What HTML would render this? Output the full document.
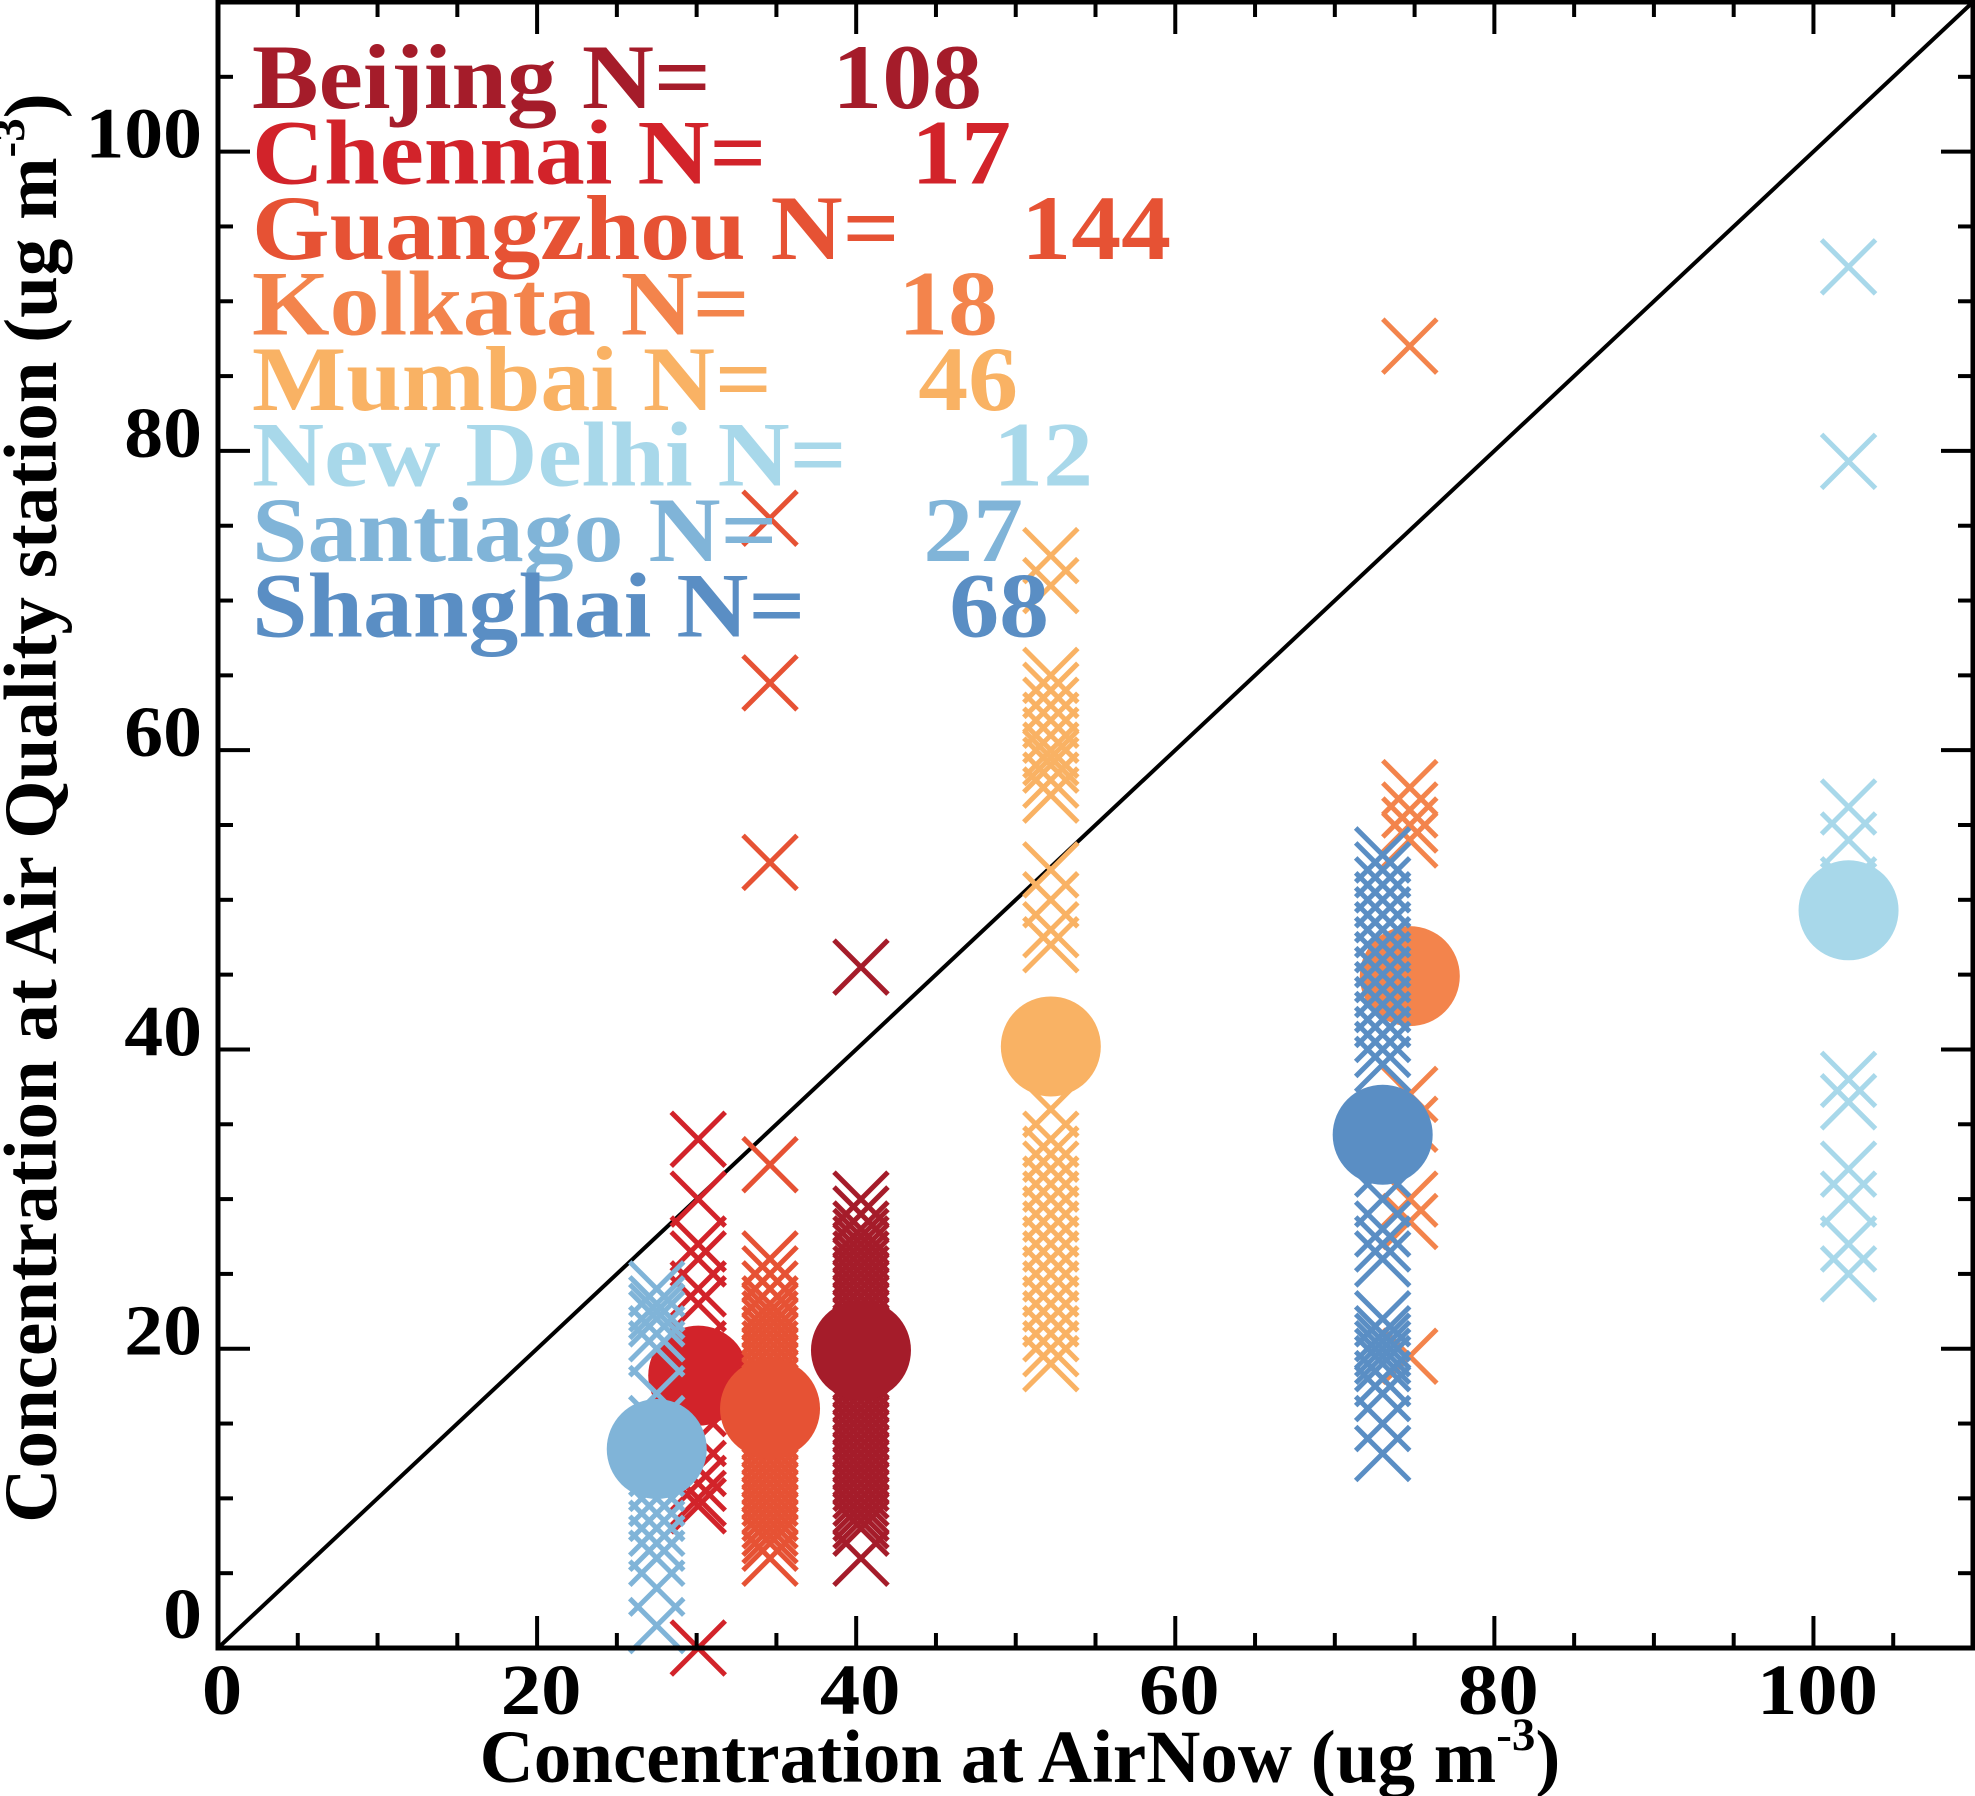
<!DOCTYPE html>
<html><head><meta charset="utf-8"><style>
html,body{margin:0;padding:0;background:#fff;}
svg{display:block;}
text{font-family:"Liberation Serif",serif;font-weight:bold;}
</style></head><body>
<svg id="chart" width="1975" height="1796" viewBox="0 0 1975 1796" xmlns="http://www.w3.org/2000/svg">
<g id="marks"></g>
<g id="axes"></g>
<g id="legend"></g>
<text x="1020" y="1782" font-size="75" text-anchor="middle">Concentration at AirNow (ug m<tspan font-size="47" dy="-32">-3</tspan><tspan dy="32">)</tspan></text>
<text transform="translate(56,808) rotate(-90)" font-size="75" text-anchor="middle">Concentration at Air Quality station (ug m<tspan font-size="47" dy="-32">-3</tspan><tspan dy="32">)</tspan></text>
</svg>
<script>
const cities = ["Beijing","Chennai","Guangzhou","Kolkata","Mumbai","New Delhi","Santiago","Shanghai"];
const counts = [108,17,144,18,46,12,27,68];
const colors = ["#a51c2a","#d2232a","#e65234","#f3844c","#f9b264","#a8d8ea","#80b4d8","#5a8ec4"];
const airnow = [40.3,30.1,34.6,74.7,52.2,102.2,27.5,73.0];
const means = [19.9,18.2,16.0,44.9,40.2,49.3,13.3,34.3];
const beijingY = [45.5,30,29,28,27.5,27,26.5,26,25.5,25,24.5,24,23.5,23,22.5,22,21.5,21,20.5,20,19.5,19,18.5,18,17.5,17,16.5,16,15.5,15,14.5,14,13.5,13,12.5,12,11.5,11,10.5,10,9.5,9,8.5,8,6];
const chennaiY = [34,30,27,26,24,23,20,18,16,14,12,11,10,9.5,0];
const guangzhouY = [75.5,64.5,52.5,32.3,26,25,24,23,22.5,22,21.5,21,20.5,20,19.5,19,18.5,18,17.5,17,16.5,16,15.5,15,14.5,14,13.5,13,12.5,12,11.5,11,10.5,10,9.5,9,8.5,8,7.5,7,6];
const kolkataY = [87,57.5,56,55,54,37,35,30,28.5,19.5];
const mumbaiY = [73,71,65,64,63,62,61,60,59.5,59,58,57,52,50,48,47,36,34,33,32,31,30,29,28,27,26,25,24,23,22,21,20,19];
const newDelhiY = [92.3,79.3,56.2,54,51,38,36.5,32,30,27,25];
const santiagoY = [24,23,22.5,22,21,20,17,15,13,12,11,10,9,8,7,6,4,1.5];
const shanghaiY = [53,52,51,50,49,48,47,46,45,44,43,42,41,40,39,34,32,30,28,27,26,22,21,20.5,20,19.5,19,18,17,15,13];
const seriesY = [beijingY,chennaiY,guangzhouY,kolkataY,mumbaiY,newDelhiY,santiagoY,shanghaiY];
const xTicks = [0,20,40,60,80,100];
const yTicks = [0,20,40,60,80,100];
const legendNumEnd = [982,1011,1171,998,1018,1093,1023,1049];

const L=218,R=1973,T=2,B=1648,MAX=110;
const sx=v=>L+(R-L)*v/MAX, sy=v=>B-(B-T)*v/MAX;
const NS="http://www.w3.org/2000/svg";
function mk(tag,attrs,parent){const e=document.createElementNS(NS,tag);for(const k in attrs)e.setAttribute(k,attrs[k]);parent.appendChild(e);return e;}
const marks=document.getElementById('marks'),axes=document.getElementById('axes'),legend=document.getElementById('legend');

const diag=mk('line',{x1:sx(0),y1:sy(0),x2:sx(MAX),y2:sy(MAX),stroke:'#000','stroke-width':4},marks);



const h=27;
cities.forEach((c,i)=>{
  const g=mk('g',{},marks);
  
  
  const x=sx(airnow[i]);
  seriesY[i].forEach(v=>{
    const y=sy(v);
    const p=mk('path',{d:`M${x-h},${y-h}L${x+h},${y+h}M${x-h},${y+h}L${x+h},${y-h}`,stroke:colors[i],'stroke-width':5,fill:'none'},g);
    
    
  });
  const ci=mk('circle',{cx:x,cy:sy(means[i]),r:50,fill:colors[i]},g);
  
  
});

const frame=mk('rect',{x:L,y:T,width:R-L,height:B-T,fill:'none',stroke:'#000','stroke-width':5},axes);


for(let v=5;v<MAX;v+=5){
  const major=v%20===0, len=major?32:15;
  const X=sx(v),Y=sy(v);
  mk('line',{x1:X,y1:B,x2:X,y2:B-len,stroke:'#000','stroke-width':4},axes);
  mk('line',{x1:X,y1:T,x2:X,y2:T+len,stroke:'#000','stroke-width':4},axes);
  mk('line',{x1:L,y1:Y,x2:L+len,y2:Y,stroke:'#000','stroke-width':4},axes);
  mk('line',{x1:R,y1:Y,x2:R-len,y2:Y,stroke:'#000','stroke-width':4},axes);
}
xTicks.forEach(v=>{
  const t=mk('text',{transform:`translate(${sx(v)+4},1714) scale(1.12,1)`,'font-size':72,'text-anchor':'middle'},axes);
  t.textContent=v;
  
  
});
yTicks.forEach(v=>{
  const dy = v===0 ? -10 : 6;
  const t=mk('text',{transform:`translate(202,${sy(v)+dy}) scale(1.08,1)`,'font-size':72,'text-anchor':'end'},axes);
  t.textContent=v;
  
  
});
cities.forEach((c,i)=>{
  const y=108+i*75.5;
  const a=mk('text',{transform:`translate(252,${y}) scale(1.085,1)`,'font-size':92,fill:colors[i]},legend);
  a.textContent=c+' N=';
  
  
  const b=mk('text',{transform:`translate(${legendNumEnd[i]},${y}) scale(1.085,1)`,'font-size':92,fill:colors[i],'text-anchor':'end'},legend);
  b.textContent=counts[i];
  
  
});
</script>
</body></html>
